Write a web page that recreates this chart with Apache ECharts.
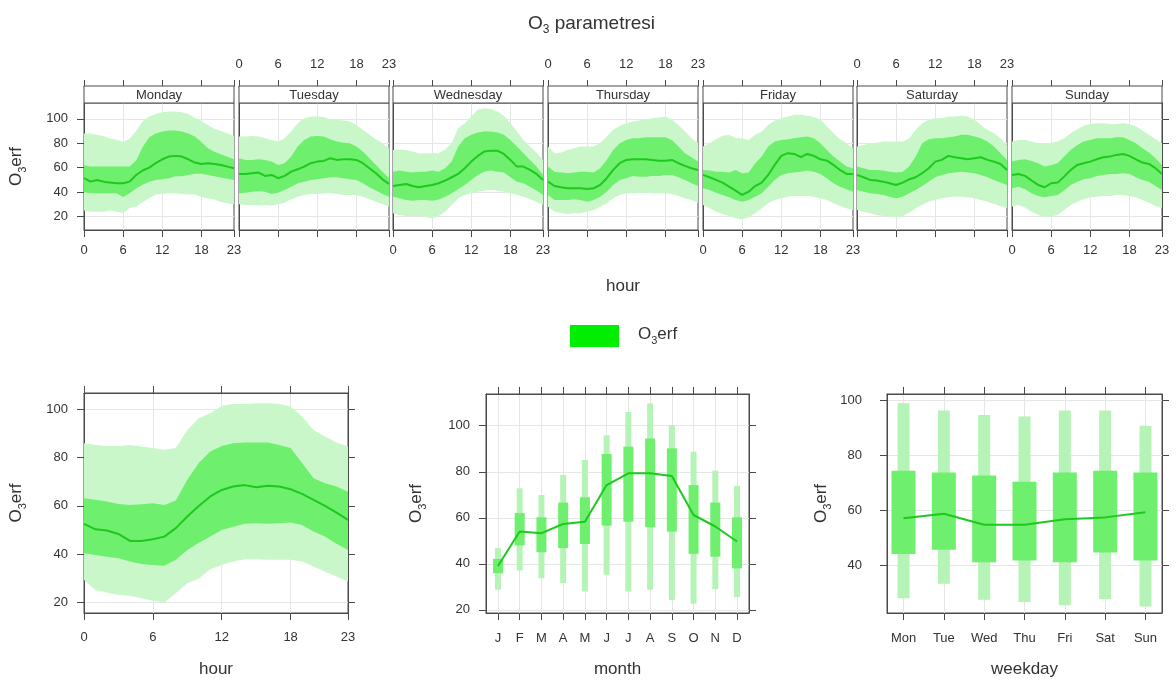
<!DOCTYPE html>
<html><head><meta charset="utf-8">
<script src="https://cdn.jsdelivr.net/npm/echarts@6/dist/echarts.min.js"></script>
<style>html,body{margin:0;padding:0;background:#fff}#c{width:1176px;height:684px}</style>
</head><body><div id="c"></div>
<script>
// ---------------- DATA ----------------
const dayNames = ['Monday','Tuesday','Wednesday','Thursday','Friday','Saturday','Sunday'];
const hourLabels = ['0','1','2','3','4','5','6','7','8','9','10','11','12','13','14','15','16','17','18','19','20','21','22','23'];
const monthLabels = ['J','F','M','A','M','J','J','A','S','O','N','D'];
const weekdayLabels = ['Mon','Tue','Wed','Thu','Fri','Sat','Sun'];

// day x hour: median, 25th/75th, 5th/95th percentiles (one row per day, Monday first)
const dhMedian = [
 [51.4,48.6,50,48.6,47.8,47.3,47.3,48.6,54,57.7,60.1,63.7,66.9,69.1,69.7,69.1,66.9,64.2,63.1,63.7,63.1,62.3,60.9,59.6],
 [54.9,54.9,55.5,56,53.3,54.1,51.4,53.3,56.8,58.7,60.9,63.7,65,65.6,67.8,66.4,66.9,66.9,66.4,63.7,59.6,55.5,50.5,46.7],
 [45,45.9,46.7,45,44,45,45.9,47.3,49.5,52.2,54.9,59.6,65,69.7,73.2,74,74,71.3,66.4,60.9,60.9,58.2,54.9,50],
 [48.6,45,44,43.2,43.2,43.2,42.6,43.2,45.9,51.4,58.2,63.7,66.4,66.9,66.9,66.9,66.4,65.8,65.8,66.4,63.7,61.5,59.6,58.2],
 [54.1,52.2,50,47.8,44.5,41.3,37.7,40.4,45,47.8,54.1,62.3,69.7,71.9,71.3,68.6,71.3,69.7,66.9,65.8,62.3,58.2,54.9,54.9],
 [54.1,52.2,50,49.5,48.6,47.3,45.9,47.8,50.5,52.2,55.5,59.6,65,66.4,69.7,68.6,67.8,66.9,67.8,68.6,66.4,65,63.1,58.2],
 [54.1,54.9,53.3,49.5,45.9,44,47.3,47.8,52.7,58.2,62.3,63.7,65,66.9,68.6,69.1,70.5,71.3,69.7,66.9,64.2,63.1,59.6,54.9]
];
const dhP25 = [
 [40,39,39,39,39,39,36,39,43,46,48.6,50,50.5,51.4,53,53,54,55,55,54,53,52,51,50],
 [39,39.5,40.4,41,40.4,38.5,39.6,41.8,44.5,47.3,48.6,50,50.5,51.4,52.2,52.2,51.4,50.5,50,47.3,44,41.3,38.5,36.3],
 [36.3,35,33.6,33,33.6,33.6,33,34,36.3,39,42.3,45.9,50,54.1,56.8,57.7,56.8,56,52.2,48.6,47.3,44.5,41.3,37.7],
 [37.7,33.6,33.6,33.6,34.2,33.6,32.2,33.6,36.3,40.4,45.9,50,51.4,53.3,52.7,52.7,53.3,53.3,54.1,54.1,52.2,50,47.3,45],
 [43.2,41.8,39.6,37.7,35.8,33.6,32.2,33.6,36.3,39,44.5,50,54.1,55.5,56,56.8,57.7,56.8,54.9,51.4,47.3,44.5,42.3,40.4],
 [41.8,40.4,39,38.5,37.7,36.3,35,36.3,39,41.8,45,48.6,52.2,54.1,55.5,56,56.8,56,55.5,54.1,52.2,50,47.8,45.9],
 [43.2,44.5,42.3,39,36.9,35.8,36.9,37.7,41.3,45.9,48.6,50.5,51.4,53.3,54.1,54.9,54.9,55.5,54.9,52.2,50,48.6,45,41.8]
];
const dhP75 = [
 [62,61,61,61,61,61,61,61,66,77,85,88,89.6,90.4,90.4,89.6,88,85.5,81,76,73,71,69,67],
 [67.8,66.4,66.4,66.9,66.4,65,62.3,63.7,69.1,77.3,82.8,85.5,86,85.5,83.3,81.4,80.5,80,77.3,73.2,67.8,62.3,56.8,51.4],
 [56.8,57.7,56.8,56,56.8,56.8,57.7,56.8,59.6,65,77.3,84.2,86.9,88.8,89.6,89.6,88.8,86.9,82.8,77.3,71.9,66.4,60.9,54.1],
 [60.9,56.8,56,55.5,56,56.8,56.8,56,59.6,66.4,74.6,80,82.8,84.2,84.2,85,85,85,85,82.8,77.3,71.9,68.6,65],
 [58.2,57.7,56.8,56.8,56,58.2,55.5,56,63.7,69.1,77.3,81.4,82.8,83.3,84.2,85,85.5,84.2,80,74.6,69.1,65,60.9,59.6],
 [60.9,59.6,58.2,58.2,57.7,56.8,56,56.8,60.9,69.1,80,83.3,84.2,84.2,85,85.5,86.9,86.9,85.5,84.2,81.4,77.3,71.9,66.4],
 [65,66.4,66.9,65.6,63.7,60.9,62.3,63.7,69.1,74.6,78.7,81.4,82.8,84.2,84.2,84.2,85,85,82.8,80,76,72.4,67.8,62.3]
];
const dhP05 = [
 [25,24,24,24,25,24,23,27,28,32,35,38,38.5,39,39,38.5,38,38,36,35,34,32,31,30],
 [30,29.5,29.5,29,29.5,29,30,31.5,34,36.3,37.7,38.5,38.5,39,39,38.5,37.7,37.7,37.7,36.3,34.2,32.2,30.3,28.1],
 [22.7,21.3,20.5,20,20.5,19.4,18.6,20.5,24,29.5,35,37.7,39,40.4,41.3,41.8,41.3,40.4,39,37.7,36.3,34.2,32.2,29.5],
 [28.1,24,22.7,22.1,22.7,22.7,24,25.4,28.1,30.9,35,37.7,39,39,39.6,39.6,39,39,39,38.5,36.9,35,33.6,31.4],
 [29.5,26.8,24,22.1,20.5,18.6,17.8,19.4,22.7,26.8,30.9,33.6,35,36.3,36.9,36.9,36.9,36.3,35,33.6,30.9,28.7,26.8,25.4],
 [25.4,24,22.7,21.3,20.5,20,19.4,20.5,23.2,26.8,29.5,32.2,33.6,35,35.8,36.3,36.3,35.8,35,33.6,32.2,30.3,28.7,26.8],
 [28.1,29.5,27.5,24,21.3,19.4,20,21.3,25.4,29.5,32.2,34.2,35.8,36.3,36.9,36.9,37.7,37.7,36.9,35.8,33.6,31.4,28.7,26.8]
];
const dhP95 = [
 [88,88,87,86,84,83,81,84,90,98,102,104,105.5,106,106,105.5,104,101,98,95,92,90,88,86],
 [85.5,85.5,86,85.5,84.2,82.8,81.4,84.2,89.6,96.4,100.5,102,102,101.5,99.7,99.2,98.6,97.8,95,91,86.9,83.3,80,76],
 [74.6,75,74.6,73.2,71.9,71.9,71.9,71.9,75,80,92.3,96.4,102,107.4,108.7,108,106,102.5,96.4,89.6,82.8,77.3,72.4,66.4],
 [77.3,71.9,72.4,74.6,76,77.3,77.3,77.3,80,85.5,91,94.3,96.4,97.8,98.6,99.7,100.5,101.2,101.9,99.2,95,89.6,84.2,80],
 [77.3,80,83.3,86.1,86.9,84.2,84.2,82.8,86.9,89.6,95,98.6,100.5,101.9,103.3,103.3,102.5,101.5,99.2,93.7,88.3,83.3,80,76],
 [77.3,78.7,80,80.5,81.4,81.4,81.4,81.4,84.2,91,96.4,99.2,100.5,100.5,101.9,101.9,102.5,101.9,99.2,95,91,88.3,84.2,78.7],
 [81.4,82.8,82.8,81.4,80,79.5,80.5,81.4,84.2,88.3,91.5,94.3,95.9,96.4,96.4,95.9,95.9,96.4,95.9,93.7,90.4,86.9,83.3,80]
];

// hour of day (all days)
const hourMedian = [52.6,50.3,49.8,48.4,45.5,45.5,46.2,47.3,50.8,55.6,60,63.9,66.6,68,68.6,67.7,68.3,68,66.9,65,62.5,60,57.2,54.2];
const hourP25 = [40.4,39.7,39,38.3,37,36,35.6,35.2,37.7,41.8,44.8,47.3,50,51.4,52.6,52.8,52.6,52.8,53.1,52.1,49.4,47.3,44.3,41.8];
const hourP75 = [63.2,62.5,61.8,60.8,60.4,60.7,61.1,60.4,62.2,70.8,77.7,82.5,84.8,85.9,86.2,86.2,86.2,85.2,83.9,77.7,71.4,69.4,68,65.9];
const hourP05 = [29.4,25.2,24.1,23.2,22.8,21.8,20.8,20,23.9,28,30,33.8,35.6,37,37.9,37.9,37.7,37.7,37.7,37,34.9,32.8,30.8,28.7];
const hourP95 = [85.9,85.2,84.8,84.8,85.2,84.6,83.9,83.2,83.9,91.4,96.3,98.3,101.4,102.2,102.2,102.5,102.5,102.2,101.1,97,91.4,88.7,86.2,84.6];

// month
const monthMedian = [39,54,53.3,57.3,58.3,74.2,79.3,79.3,78.2,61.2,56.2,49.7];
const monthP25 = [35.9,48,45,46.8,48.6,56.6,58.3,55.9,54,44.3,43.1,38];
const monthP75 = [42.1,62,60.2,66.6,68.9,87.7,90.9,94.5,90.2,74.2,66.6,60.2];
const monthP05 = [28.7,37.1,33.7,31.6,28,35.2,28,28.7,24.3,22.6,29,25.5];
const monthP95 = [46.8,72.8,69.9,78.6,85.1,95.9,106,109.7,100.3,88.7,80.5,73.8];

// weekday
const wdMedian = [57.2,58.8,54.8,54.8,56.8,57.5,59.4];
const wdP25 = [44.2,45.7,41.2,41.8,41.2,44.7,41.8];
const wdP75 = [74.5,73.8,72.7,70.5,73.8,74.5,73.8];
const wdP05 = [28.1,33.3,27.5,26.7,25.5,27.8,25.1];
const wdP95 = [99,96.4,94.8,94.2,96.4,96.4,90.8];

// ---------------- STYLE ----------------
const FONT = '"Liberation Sans", Arial, sans-serif';
const FR = '#4a4a4a', GRIDC = '#e6e6e6', TXT = '#333333';
const LIGHT = '#c9f7c9', DARK = '#6eef6e', LINEC = '#1ec81e', WHISK = '#b6f3b6', LEGC = '#00ee00';
const richO = {
  a: {fontSize: 17, fontFamily: FONT, color: TXT, lineHeight: 20, verticalAlign: 'top', fontWeight: 'normal'},
  b: {fontSize: 11, fontFamily: FONT, color: TXT, lineHeight: 20, padding: [9, 0, 0, 0], verticalAlign: 'top', fontWeight: 'normal'}
};
const O3NAME = '{a|O}{b|3}{a|erf}';
const lab = (extra) => Object.assign({fontSize: 13, color: TXT, fontFamily: FONT}, extra);
const hourTick = (idx) => idx === 0 || idx === 6 || idx === 12 || idx === 18 || idx === 23;
const hourGrid = (idx) => idx === 6 || idx === 12 || idx === 18;
const yFmt = (v) => (Math.abs(v % 20) < 1e-6 ? String(Math.round(v)) : '');

function band(lo, hi, color) {
  return function (params, api) {
    const pts = [];
    for (let k = 0; k < hi.length; k++) pts.push(api.coord([k, hi[k]]));
    for (let k = lo.length - 1; k >= 0; k--) pts.push(api.coord([k, lo[k]]));
    return {type: 'polygon', shape: {points: pts}, style: {fill: color}};
  };
}
function boxSeries(lo, hi, w, color, xi, yi) {
  return {
    type: 'custom', xAxisIndex: xi, yAxisIndex: yi, silent: true,
    data: lo.map((v, k) => [k, v, hi[k]]),
    encode: {x: 0, y: [1, 2]},
    renderItem: function (params, api) {
      const k = api.value(0);
      const a = api.coord([k, api.value(1)]);
      const b = api.coord([k, api.value(2)]);
      return {type: 'rect', shape: {x: a[0] - w / 2, y: b[1], width: w, height: a[1] - b[1]}, style: {fill: color}};
    }
  };
}

const grids = [], xAxes = [], yAxes = [], series = [], graphics = [];
const axisLineS = {show: true, onZero: false, lineStyle: {color: FR, width: 1}};

// ---------------- TOP: day x hour panels ----------------
const TOP_Y = 103, TOP_H = 127, PW = 150;
for (let i = 0; i < 7; i++) {
  const L = Math.round(84 + i * 154.67);
  grids.push({left: L, top: TOP_Y, width: PW, height: TOP_H, show: true, borderColor: FR, borderWidth: 1});
  const xb = xAxes.length;
  xAxes.push({type: 'category', gridIndex: i, data: hourLabels, boundaryGap: false, position: 'bottom',
    axisLine: axisLineS, axisTick: {show: true, length: 7, interval: hourTick, lineStyle: {color: FR}},
    axisLabel: lab({show: i % 2 === 0, interval: hourTick, margin: 14}),
    splitLine: {show: true, interval: hourGrid, lineStyle: {color: GRIDC}}});
  xAxes.push({type: 'category', gridIndex: i, data: hourLabels, boundaryGap: false, position: 'top', offset: 17,
    axisLine: axisLineS, axisTick: {show: true, length: 6, interval: hourTick, lineStyle: {color: FR}},
    axisLabel: lab({show: i % 2 === 1, interval: hourTick, margin: 15}), splitLine: {show: false}});
  const yi = yAxes.length;
  yAxes.push({type: 'value', gridIndex: i, min: 9, max: 113, splitNumber: 5, position: 'left',
    axisLine: axisLineS,
    axisTick: {show: i === 0, length: 7, customValues: [20, 40, 60, 80, 100], lineStyle: {color: FR}},
    axisLabel: lab({show: i === 0, customValues: [20, 40, 60, 80, 100], margin: 16, formatter: yFmt}),
    splitLine: {show: true, lineStyle: {color: GRIDC}},
    name: i === 0 ? O3NAME : '', nameLocation: 'middle', nameGap: 56, nameRotate: 90,
    nameTextStyle: {rich: richO}});
  if (i === 6) {
    yAxes.push({type: 'value', gridIndex: i, min: 9, max: 113, splitNumber: 5, position: 'right',
      axisLine: axisLineS, axisTick: {show: true, length: 7, customValues: [20, 40, 60, 80, 100], lineStyle: {color: FR}},
      axisLabel: {show: false}, splitLine: {show: false}});
  }
  series.push({type: 'custom', name: i === 0 ? 'O3erf' : 'b5' + i, xAxisIndex: xb, yAxisIndex: yi, silent: true, z: 1,
    data: [[0, dhP95[i][0]]], renderItem: band(dhP05[i], dhP95[i], LIGHT)});
  series.push({type: 'custom', name: 'b25' + i, xAxisIndex: xb, yAxisIndex: yi, silent: true, z: 2,
    data: [[0, dhP75[i][0]]], renderItem: band(dhP25[i], dhP75[i], DARK)});
  series.push({type: 'line', name: 'med' + i, xAxisIndex: xb, yAxisIndex: yi, data: dhMedian[i], showSymbol: false,
    silent: true, z: 3, lineStyle: {color: LINEC, width: 2}, itemStyle: {color: LINEC}});
  graphics.push({type: 'rect', z: 10, shape: {x: L, y: 86, width: PW, height: 17},
    style: {fill: '#ffffff', stroke: FR, lineWidth: 1}});
  graphics.push({type: 'text', z: 11, x: L + PW / 2, y: 95, style: {text: dayNames[i], fill: TXT,
    font: '13px ' + FONT, align: 'center', verticalAlign: 'middle', textAlign: 'center', textVerticalAlign: 'middle'}});
}
graphics.push({type: 'text', x: 623, y: 286, style: {text: 'hour', fill: TXT, font: '17px ' + FONT,
  align: 'center', verticalAlign: 'middle', textAlign: 'center', textVerticalAlign: 'middle'}});

// ---------------- BOTTOM LEFT: hour ----------------
let g = grids.length;
grids.push({left: 84, top: 393, width: 264, height: 220, show: true, borderColor: FR, borderWidth: 1});
let xb = xAxes.length;
xAxes.push({type: 'category', gridIndex: g, data: hourLabels, boundaryGap: false, position: 'bottom',
  axisLine: axisLineS, axisTick: {show: true, length: 7, interval: hourTick, lineStyle: {color: FR}},
  axisLabel: lab({interval: hourTick, margin: 18}),
  splitLine: {show: true, interval: hourGrid, lineStyle: {color: GRIDC}},
  name: 'hour', nameLocation: 'middle', nameGap: 48, nameTextStyle: {fontSize: 17, color: TXT, fontFamily: FONT}});
xAxes.push({type: 'category', gridIndex: g, data: hourLabels, boundaryGap: false, position: 'top',
  axisLine: axisLineS, axisTick: {show: true, length: 7, interval: hourTick, lineStyle: {color: FR}},
  axisLabel: {show: false}, splitLine: {show: false}});
let yi = yAxes.length;
yAxes.push({type: 'value', gridIndex: g, min: 15.7, max: 106.7, splitNumber: 5, position: 'left',
  axisLine: axisLineS, axisTick: {show: true, length: 7, customValues: [20, 40, 60, 80, 100], lineStyle: {color: FR}},
  axisLabel: lab({customValues: [20, 40, 60, 80, 100], margin: 16, formatter: yFmt}),
  splitLine: {show: true, lineStyle: {color: GRIDC}},
  name: O3NAME, nameLocation: 'middle', nameGap: 56, nameRotate: 90, nameTextStyle: {rich: richO}});
yAxes.push({type: 'value', gridIndex: g, min: 15.7, max: 106.7, splitNumber: 5, position: 'right',
  axisLine: axisLineS, axisTick: {show: true, length: 7, customValues: [20, 40, 60, 80, 100], lineStyle: {color: FR}},
  axisLabel: {show: false}, splitLine: {show: false}});
series.push({type: 'custom', name: 'h5', xAxisIndex: xb, yAxisIndex: yi, silent: true, z: 1,
  data: [[0, hourP95[0]]], renderItem: band(hourP05, hourP95, LIGHT)});
series.push({type: 'custom', name: 'h25', xAxisIndex: xb, yAxisIndex: yi, silent: true, z: 2,
  data: [[0, hourP75[0]]], renderItem: band(hourP25, hourP75, DARK)});
series.push({type: 'line', name: 'hmed', xAxisIndex: xb, yAxisIndex: yi, data: hourMedian, showSymbol: false,
  silent: true, z: 3, lineStyle: {color: LINEC, width: 2}, itemStyle: {color: LINEC}});

// ---------------- BOTTOM MIDDLE: month ----------------
g = grids.length;
grids.push({left: 486, top: 394, width: 263, height: 219, show: true, borderColor: FR, borderWidth: 1});
xb = xAxes.length;
const mIdx = [0, 1, 2, 3, 4, 5, 6, 7, 8, 9, 10, 11];
xAxes.push({type: 'value', gridIndex: g, min: -0.55, max: 11.55, splitNumber: 12, position: 'bottom',
  axisLine: axisLineS, axisTick: {show: true, length: 7, customValues: mIdx, lineStyle: {color: FR}},
  axisLabel: lab({customValues: mIdx, margin: 19, formatter: (v) => monthLabels[Math.round(v)] || ''}),
  splitLine: {show: true, lineStyle: {color: GRIDC}},
  name: 'month', nameLocation: 'middle', nameGap: 48, nameTextStyle: {fontSize: 17, color: TXT, fontFamily: FONT}});
xAxes.push({type: 'value', gridIndex: g, min: -0.55, max: 11.55, splitNumber: 12, position: 'top',
  axisLine: axisLineS, axisTick: {show: true, length: 7, customValues: mIdx, lineStyle: {color: FR}},
  axisLabel: {show: false}, splitLine: {show: false}});
yi = yAxes.length;
yAxes.push({type: 'value', gridIndex: g, min: 18.6, max: 113.8, splitNumber: 5, position: 'left',
  axisLine: axisLineS, axisTick: {show: true, length: 7, customValues: [20, 40, 60, 80, 100], lineStyle: {color: FR}},
  axisLabel: lab({customValues: [20, 40, 60, 80, 100], margin: 16, formatter: yFmt}),
  splitLine: {show: true, lineStyle: {color: GRIDC}},
  name: O3NAME, nameLocation: 'middle', nameGap: 58, nameRotate: 90, nameTextStyle: {rich: richO}});
yAxes.push({type: 'value', gridIndex: g, min: 18.6, max: 113.8, splitNumber: 5, position: 'right',
  axisLine: axisLineS, axisTick: {show: true, length: 7, customValues: [20, 40, 60, 80, 100], lineStyle: {color: FR}},
  axisLabel: {show: false}, splitLine: {show: false}});
series.push(Object.assign(boxSeries(monthP05, monthP95, 6, WHISK, xb, yi), {name: 'm5', z: 1}));
series.push(Object.assign(boxSeries(monthP25, monthP75, 10, DARK, xb, yi), {name: 'm25', z: 2}));
series.push({type: 'line', name: 'mmed', xAxisIndex: xb, yAxisIndex: yi, data: monthMedian.map((v, k) => [k, v]),
  showSymbol: false, silent: true, z: 3, lineStyle: {color: LINEC, width: 2}, itemStyle: {color: LINEC}});

// ---------------- BOTTOM RIGHT: weekday ----------------
g = grids.length;
grids.push({left: 887, top: 394, width: 275, height: 219, show: true, borderColor: FR, borderWidth: 1});
xb = xAxes.length;
const wIdx = [0, 1, 2, 3, 4, 5, 6];
xAxes.push({type: 'value', gridIndex: g, min: -0.41, max: 6.41, splitNumber: 7, position: 'bottom',
  axisLine: axisLineS, axisTick: {show: true, length: 7, customValues: wIdx, lineStyle: {color: FR}},
  axisLabel: lab({customValues: wIdx, margin: 19, formatter: (v) => weekdayLabels[Math.round(v)] || ''}),
  splitLine: {show: true, lineStyle: {color: GRIDC}},
  name: 'weekday', nameLocation: 'middle', nameGap: 48, nameTextStyle: {fontSize: 17, color: TXT, fontFamily: FONT}});
xAxes.push({type: 'value', gridIndex: g, min: -0.41, max: 6.41, splitNumber: 7, position: 'top',
  axisLine: axisLineS, axisTick: {show: true, length: 7, customValues: wIdx, lineStyle: {color: FR}},
  axisLabel: {show: false}, splitLine: {show: false}});
yi = yAxes.length;
yAxes.push({type: 'value', gridIndex: g, min: 22.7, max: 102.4, splitNumber: 5, position: 'left',
  axisLine: axisLineS, axisTick: {show: true, length: 7, customValues: [40, 60, 80, 100], lineStyle: {color: FR}},
  axisLabel: lab({customValues: [40, 60, 80, 100], margin: 25, formatter: yFmt}),
  splitLine: {show: true, lineStyle: {color: GRIDC}},
  name: O3NAME, nameLocation: 'middle', nameGap: 54, nameRotate: 90, nameTextStyle: {rich: richO}});
yAxes.push({type: 'value', gridIndex: g, min: 22.7, max: 102.4, splitNumber: 5, position: 'right',
  axisLine: axisLineS, axisTick: {show: true, length: 7, customValues: [40, 60, 80, 100], lineStyle: {color: FR}},
  axisLabel: {show: false}, splitLine: {show: false}});
series.push(Object.assign(boxSeries(wdP05, wdP95, 12, WHISK, xb, yi), {name: 'w5', z: 1}));
series.push(Object.assign(boxSeries(wdP25, wdP75, 24, DARK, xb, yi), {name: 'w25', z: 2}));
series.push({type: 'line', name: 'wmed', xAxisIndex: xb, yAxisIndex: yi, data: wdMedian.map((v, k) => [k, v]),
  showSymbol: false, silent: true, z: 3, lineStyle: {color: LINEC, width: 2}, itemStyle: {color: LINEC}});

// ---------------- CHART ----------------
const chart = echarts.init(document.getElementById('c'), null, {renderer: 'canvas'});
chart.setOption({
  animation: false,
  backgroundColor: '#ffffff',
  textStyle: {fontFamily: FONT},
  title: {text: '{a|O}{b|3}{a| parametresi}', left: 523, top: 9,
    textStyle: {fontWeight: 'normal', rich: {
      a: {fontSize: 19, fontFamily: FONT, color: TXT, lineHeight: 22, verticalAlign: 'top', fontWeight: 'normal'},
      b: {fontSize: 12, fontFamily: FONT, color: TXT, lineHeight: 22, padding: [10, 0, 0, 0], verticalAlign: 'top', fontWeight: 'normal'}}}},
  legend: {left: 565, top: 320, itemWidth: 49, itemHeight: 22, selectedMode: false,
    data: [{name: 'O3erf', icon: 'rect', itemStyle: {color: LEGC, borderWidth: 0}}],
    formatter: () => O3NAME,
    textStyle: {padding: [0, 0, 0, 14], rich: richO}},
  grid: grids, xAxis: xAxes, yAxis: yAxes, series: series, graphic: graphics
});
</script></body></html>
